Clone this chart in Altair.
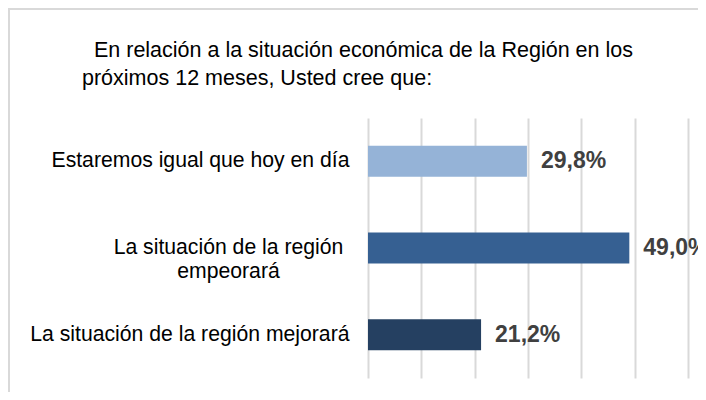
import altair as alt
import pandas as pd

categories = [
    "Estaremos igual que hoy en día",
    "La situación de la región empeorará",
    "La situación de la región mejorará",
]
values = [29.8, 49.0, 21.2]
colors = ["#95B3D7", "#366092", "#254061"]
x_ticks = [0, 10, 20, 30, 40, 50, 60]
title_lines = [
    "\u200b\u00a0\u00a0En relación a la situación económica de la Región en los",
    "próximos 12 meses, Usted cree que:",
]

df = pd.DataFrame({
    "cat": categories,
    "val": values,
    "label": [f"{v:.1f}".replace(".", ",") + "%" for v in values],
})

FONT = "Liberation Sans"
two_line = categories[1]

y_enc = alt.Y(
    "cat:N",
    sort=categories,
    scale=alt.Scale(paddingInner=0, paddingOuter=0),
    axis=alt.Axis(
        title=None,
        domain=False,
        ticks=False,
        grid=False,
        labelFont=FONT,
        labelFontSize=21.2,
        labelColor="#000000",
        labelLimit=400,
        labelLineHeight=24,
        labelExpr=f"datum.label == '{two_line}' ? ['La situación de la región', 'empeorará'] : datum.label",
        labelAlign={"condition": {"test": f"datum.value == '{two_line}'", "value": "center"}, "value": "right"},
        labelPadding={"condition": {"test": f"datum.value == '{two_line}'", "value": 140}, "value": 19},
    ),
)

x_enc = alt.X(
    "val:Q",
    scale=alt.Scale(domain=[0, 60], nice=False),
    axis=alt.Axis(
        title=None,
        values=x_ticks,
        labels=False,
        ticks=False,
        domain=False,
        grid=True,
        gridColor="#D9D9D9",
        gridWidth=2,
    ),
)

bars = alt.Chart(df).mark_bar(size=31).encode(
    y=y_enc,
    x=x_enc,
    color=alt.Color("cat:N", scale=alt.Scale(domain=categories, range=colors), legend=None),
)

texts = alt.Chart(df).mark_text(
    align="left", baseline="middle", dx=14, font=FONT, fontSize=23, fontWeight="bold", color="#404040"
).encode(
    y=alt.Y("cat:N", sort=categories),
    x="val:Q",
    text="label:N",
)

border_top = alt.Chart(df).mark_rule(color="#D9D9D9", strokeWidth=3).encode(
    x=alt.value(-360), x2=alt.value(340), y=alt.value(-109.5)
)
border_left = alt.Chart(df).mark_rule(color="#D9D9D9", strokeWidth=3).encode(
    x=alt.value(-359.5), y=alt.value(-110), y2=alt.value(290)
)

chart = alt.layer(border_top, border_left, bars, texts).properties(
    width=320,
    height=260,
    autosize=alt.AutoSizeParams(type="none"),
    padding={"left": 360, "top": 110, "right": 10, "bottom": 14},
    title=alt.TitleParams(
        text=title_lines,
        anchor="start",
        frame="group",
        dx=-286,
        dy=111,
        offset=28,
        font=FONT,
        fontSize=21.5,
        fontWeight="normal",
        color="#000000",
        lineHeight=28,
    ),
).configure_view(stroke=None)

chart.save("out.html", embed_options={"renderer": "svg", "actions": False})
